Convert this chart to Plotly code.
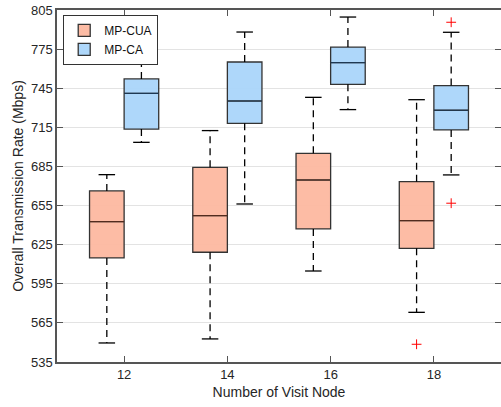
import plotly.graph_objects as go

nodes = [12, 14, 16, 18]

# MP-CUA statistics
cua_low = [549.6, 552.7, 604.8, 573.1]
cua_q1 = [614.8, 619.2, 637.1, 622.2]
cua_med = [642.7, 647.3, 674.6, 643.4]
cua_q3 = [666.2, 684.3, 695.1, 673.3]
cua_high = [678.7, 712.5, 738.0, 736.2]
cua_out_x = [18]
cua_out_y = [548.6]

# MP-CA statistics
ca_low = [703.5, 656.2, 728.6, 678.5]
ca_q1 = [713.7, 718.1, 748.0, 713.0]
ca_med = [741.1, 735.2, 764.6, 728.1]
ca_q3 = [752.1, 765.1, 776.6, 747.0]
ca_high = [765.9, 788.1, 799.6, 787.9]
ca_out_x = [18, 18]
ca_out_y = [795.6, 656.8]

yticks = [535, 565, 595, 625, 655, 685, 715, 745, 775, 805]

OFF = 0.335
BW = 0.67
CAP = 0.16

series = [
    ("MP-CUA", -OFF, cua_low, cua_q1, cua_med, cua_q3, cua_high, cua_out_x, cua_out_y,
     "rgba(253,184,160,0.95)", "#5a2a1a"),
    ("MP-CA", OFF, ca_low, ca_q1, ca_med, ca_q3, ca_high, ca_out_x, ca_out_y,
     "rgba(170,213,250,0.95)", "#1a3a5a"),
]

fig = go.Figure()
for name, off, low, q1, med, q3, high, ox, oy, fill, medc in series:
    xs = [n + off for n in nodes]
    # dashed whiskers
    wx, wy = [], []
    for x, l, a, b, h in zip(xs, low, q1, q3, high):
        wx += [x, x, None, x, x, None]
        wy += [b, h, None, a, l, None]
    fig.add_trace(go.Scatter(x=wx, y=wy, mode="lines", showlegend=False, hoverinfo="skip",
                             line=dict(color="black", width=1.3, dash="7px,5px")))
    # caps
    cx, cy = [], []
    for x, l, h in zip(xs, low, high):
        cx += [x - CAP, x + CAP, None, x - CAP, x + CAP, None]
        cy += [h, h, None, l, l, None]
    fig.add_trace(go.Scatter(x=cx, y=cy, mode="lines", showlegend=False, hoverinfo="skip",
                             line=dict(color="black", width=1.3)))
    fig.add_trace(go.Box(name=name, x=xs, q1=q1, median=med, q3=q3,
                         lowerfence=q1, upperfence=q3, width=BW, whiskerwidth=0,
                         fillcolor=fill, line=dict(color="#333333", width=1.3)))
    # median lines with darker tint
    mx, my = [], []
    for x, m in zip(xs, med):
        mx += [x - BW / 2, x + BW / 2, None]
        my += [m, m, None]
    fig.add_trace(go.Scatter(x=mx, y=my, mode="lines", showlegend=False, hoverinfo="skip",
                             line=dict(color=medc, width=1.2), opacity=0.8))
    fig.add_trace(go.Scatter(x=[x + off for x in ox], y=oy, mode="markers", showlegend=False,
                             hoverinfo="skip",
                             marker=dict(symbol="cross-thin", size=7, color="red",
                                         line=dict(color="red", width=1))))

font = "Liberation Sans, Arial, Helvetica, sans-serif"
fig.update_layout(
    width=501, height=407,
    margin=dict(l=57, r=0, t=10, b=45),
    paper_bgcolor="white", plot_bgcolor="white",
    boxmode="overlay",
    font=dict(family=font, size=13, color="#262626"),
    showlegend=True,
    legend=dict(x=0.014, y=0.986, xanchor="left", yanchor="top",
                bgcolor="white", bordercolor="#333333", borderwidth=1,
                font=dict(size=12, color="#111111"), tracegroupgap=0,
                itemwidth=30),
    xaxis=dict(range=[10.7, 19.3], tickvals=nodes, ticktext=[str(n) for n in nodes],
               title=dict(text="Number of Visit Node", font=dict(size=14), standoff=6),
               automargin=False,
               showgrid=False, zeroline=False, showline=True, linecolor="#555555",
               linewidth=1.5, mirror="ticks", ticks="inside", ticklen=6, tickcolor="#555555",
               tickfont=dict(size=13)),
    yaxis=dict(range=[535, 805], tickvals=yticks, ticktext=[str(v) for v in yticks],
               title=dict(text="Overall Transmission Rate (Mbps)", font=dict(size=14), standoff=4),
               automargin=False,
               showgrid=True, gridcolor="#e3e3e3", gridwidth=1, zeroline=False,
               showline=True, linecolor="#555555", linewidth=1.5, mirror="ticks",
               ticks="inside", ticklen=6, tickcolor="#555555", tickfont=dict(size=13)),
)

fig.write_html("out.html", config={"displayModeBar": False},
               post_script="document.body.style.margin='0';")
